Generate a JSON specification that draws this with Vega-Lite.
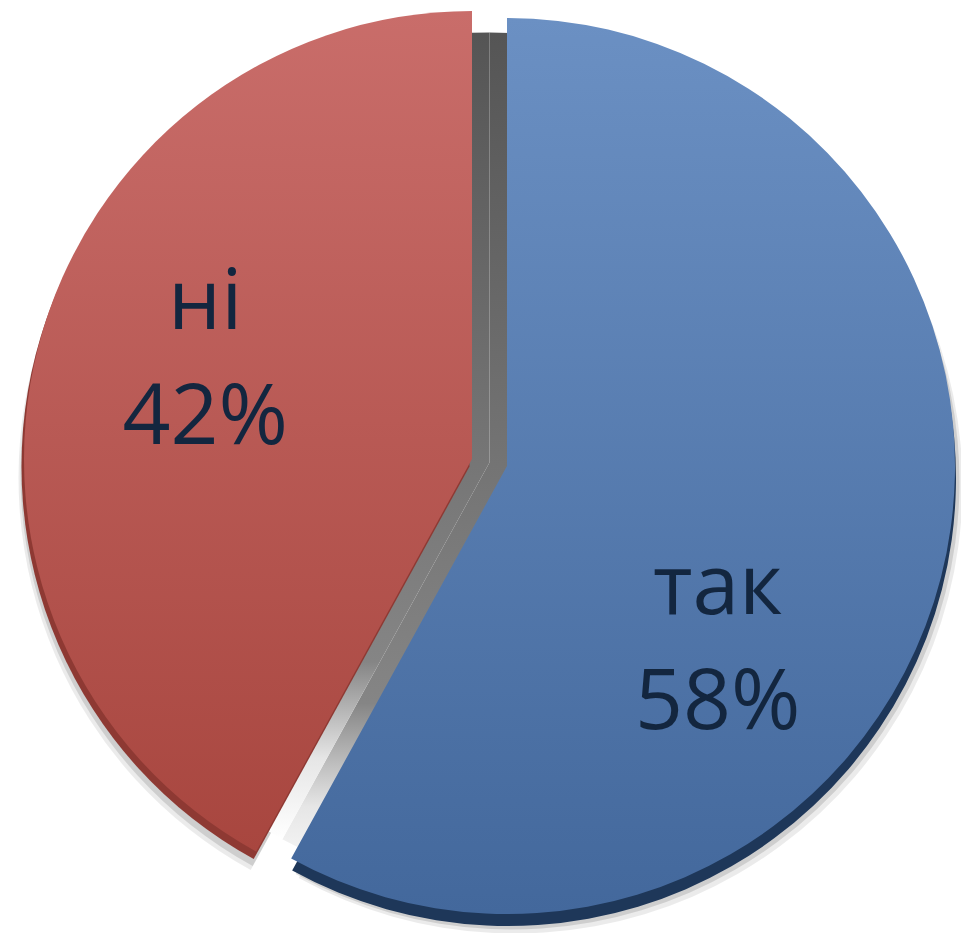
{
  "$schema": "https://vega.github.io/schema/vega-lite/v6.json",
  "width": 961,
  "height": 933,
  "autosize": {"type": "fit", "contains": "padding"},
  "padding": 0,
  "background": "white",
  "view": {"stroke": null},
  "data": {"values": [{"label": "так", "value": 58}, {"label": "ні", "value": 42}]},
  "transform": [{"calculate": "datum.label + '\\n' + datum.value + '%'", "as": "txt"}],
  "encoding": {
    "theta": {"field": "value", "type": "quantitative", "stack": true},
    "order": {"field": "label", "sort": "descending"}
  },
  "layer": [
    {
      "mark": {"type": "arc", "outerRadius": 448, "fill": "#000000", "xOffset": 36, "yOffset": 20},
      "encoding": {"opacity": {"condition": {"test": "datum.label === 'так'", "value": 0.08}, "value": 0}}
    },
    {
      "mark": {"type": "arc", "outerRadius": 448, "fill": "#000000", "xOffset": 33, "yOffset": 16},
      "encoding": {"opacity": {"condition": {"test": "datum.label === 'так'", "value": 0.12}, "value": 0}}
    },
    {
      "mark": {"type": "arc", "outerRadius": 448, "fill": "#000000", "xOffset": -12, "yOffset": 12},
      "encoding": {"opacity": {"condition": {"test": "datum.label === 'ні'", "value": 0.08}, "value": 0}}
    },
    {
      "mark": {"type": "arc", "outerRadius": 448, "fill": "#000000", "xOffset": -10, "yOffset": 8},
      "encoding": {"opacity": {"condition": {"test": "datum.label === 'ні'", "value": 0.12}, "value": 0}}
    },
    {
      "mark": {
        "type": "arc",
        "outerRadius": 430,
        "xOffset": 11,
        "yOffset": -3,
        "fill": {"gradient": "linear", "x1": 0, "y1": 0, "x2": 0, "y2": 1,
          "stops": [{"offset": 0, "color": "#555555"}, {"offset": 0.78, "color": "#858585"}, {"offset": 0.9, "color": "#e6e6e6"}, {"offset": 1, "color": "#ffffff"}]}
      }
    },
    {
      "mark": {"type": "arc", "outerRadius": 448, "fill": "#1e3759", "xOffset": 29.5, "yOffset": 12.5},
      "encoding": {"opacity": {"condition": {"test": "datum.label === 'так'", "value": 1}, "value": 0}}
    },
    {
      "mark": {"type": "arc", "outerRadius": 448, "fill": "#8e3933", "xOffset": -9, "yOffset": 1},
      "encoding": {"opacity": {"condition": {"test": "datum.label === 'ні'", "value": 1}, "value": 0}}
    },
    {
      "mark": {
        "type": "arc",
        "outerRadius": 448,
        "xOffset": 28.5,
        "yOffset": 0.5,
        "fill": {"gradient": "linear", "x1": 0, "y1": 0, "x2": 0, "y2": 1,
          "stops": [{"offset": 0, "color": "#6b90c3"}, {"offset": 1, "color": "#43689c"}]}
      },
      "encoding": {"opacity": {"condition": {"test": "datum.label === 'так'", "value": 1}, "value": 0}}
    },
    {
      "mark": {
        "type": "arc",
        "outerRadius": 448,
        "xOffset": -6.5,
        "yOffset": -6.5,
        "fill": {"gradient": "linear", "x1": 0, "y1": 0, "x2": 0, "y2": 1,
          "stops": [{"offset": 0, "color": "#c96d6a"}, {"offset": 1, "color": "#a8463f"}]}
      },
      "encoding": {"opacity": {"condition": {"test": "datum.label === 'ні'", "value": 1}, "value": 0}}
    },
    {
      "mark": {"type": "text", "radius": 280, "font": "Open Sans", "fontSize": 84, "lineHeight": 115, "lineBreak": "\n", "color": "#13263f", "align": "center", "baseline": "middle", "xOffset": -32, "yOffset": 54},
      "encoding": {
        "text": {"field": "txt", "type": "nominal"},
        "opacity": {"condition": {"test": "datum.label === 'так'", "value": 1}, "value": 0}
      }
    },
    {
      "mark": {"type": "text", "radius": 280, "font": "Open Sans", "fontSize": 84, "lineHeight": 115, "lineBreak": "\n", "color": "#13263f", "align": "center", "baseline": "middle", "xOffset": -2, "yOffset": -91.5},
      "encoding": {
        "text": {"field": "txt", "type": "nominal"},
        "opacity": {"condition": {"test": "datum.label === 'ні'", "value": 1}, "value": 0}
      }
    }
  ]
}
